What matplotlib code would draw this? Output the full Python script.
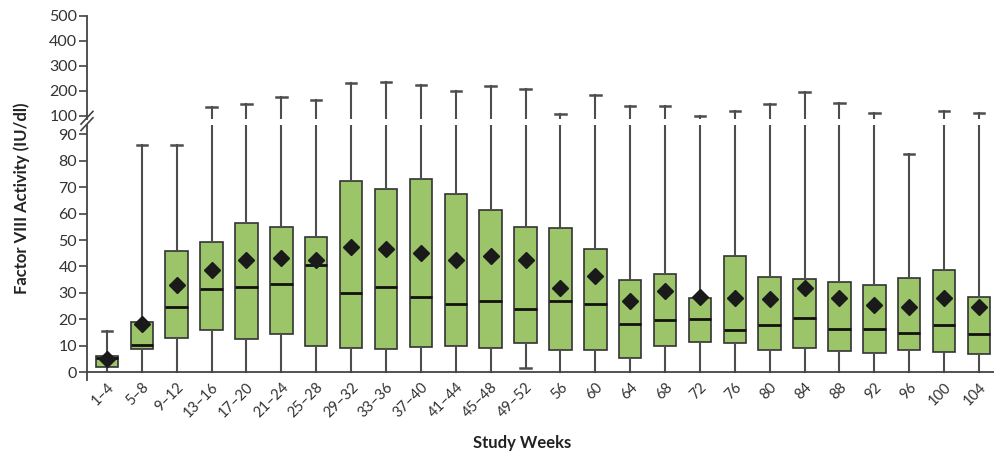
import matplotlib.pyplot as plt
from matplotlib.lines import Line2D

plt.rcParams['font.family'] = ['Lato', 'DejaVu Sans']

weeks = ['1–4', '5–8', '9–12', '13–16', '17–20', '21–24', '25–28', '29–32',
         '33–36', '37–40', '41–44', '45–48', '49–52', '56', '60', '64', '68',
         '72', '76', '80', '84', '88', '92', '96', '100', '104']

q1 = [1.8, 8.8, 12.9, 16.0, 12.4, 14.4, 9.8, 9.0, 8.7, 9.6, 10.0, 9.2, 11.2,
      8.2, 8.2, 5.3, 9.7, 11.4, 10.9, 8.3, 9.1, 8.1, 7.3, 8.5, 7.7, 6.7]
median = [5.2, 10.3, 24.5, 31.6, 32.2, 33.2, 40.6, 30.0, 32.3, 28.3, 25.8, 27.0, 24.0,
          26.8, 25.8, 18.2, 19.8, 20.2, 15.9, 17.7, 20.6, 16.3, 16.3, 14.9, 17.7, 14.5]
q3 = [6.2, 19.1, 45.7, 49.1, 56.3, 54.8, 51.1, 72.5, 69.4, 73.0, 67.4, 61.4, 54.8,
      54.7, 46.6, 34.8, 37.2, 28.0, 43.8, 35.9, 35.1, 34.3, 33.0, 35.6, 38.8, 28.4]
mean = [4.9, 18.3, 33.1, 38.8, 42.4, 43.1, 42.4, 47.5, 46.6, 45.2, 42.3, 44.0, 42.3,
        31.9, 36.5, 27.0, 30.6, 28.3, 28.0, 27.7, 31.9, 28.0, 25.3, 24.6, 28.2, 24.6]
low = [0.3, 0, 0, 0, 0, 0, 0, 0, 0, 0, 0, 0, 1.5,
       0, 0, 0, 0, 0, 0, 0, 0, 0, 0, 0, 0, 0]
high = [15.5, 86, 86, 137, 149, 176, 163, 233, 234, 223, 201, 221, 207,
        108, 183, 140, 140, 98, 119, 148, 195, 151, 111, 82.7, 121, 111]

stats = [dict(label=w, q1=a, med=m, q3=b, mean=mu, whislo=lo, whishi=hi, fliers=[])
         for w, a, m, b, mu, lo, hi in zip(weeks, q1, median, q3, mean, low, high)]

green = '#9cc56a'
dark = '#333333'

fig = plt.figure(figsize=(9.95, 4.54), dpi=100)
ax_lo = fig.add_axes([0.0874, 0.163, 0.9126, 0.5617])
ax_hi = fig.add_axes([0.0874, 0.7379, 0.9126, 0.2269])

parts = {}
for ax in (ax_lo, ax_hi):
    parts[ax] = ax.bxp(stats, positions=range(len(weeks)), widths=0.645, patch_artist=True,
                       showmeans=True, showfliers=False,
                       boxprops=dict(facecolor=green, edgecolor=dark, linewidth=1.2),
                       medianprops=dict(color='#111111', linewidth=2),
                       whiskerprops=dict(color='#4d4d4d', linewidth=1.5),
                       capprops=dict(color='#4d4d4d', linewidth=1.8),
                       capwidths=0.3,
                       meanprops=dict(marker='D', markerfacecolor='#1a1a1a',
                                      markeredgecolor='#1a1a1a', markersize=8))
    ax.set_xlim(-0.573, 25.46)
    ax.spines['top'].set_visible(False)
    ax.spines['right'].set_visible(False)
    ax.spines['left'].set_color('#444444')
    ax.spines['left'].set_linewidth(1.3)
    ax.tick_params(axis='y', length=6, width=1.2, color='#444444',
                   labelsize=11.5, labelcolor='#333333', pad=1)

# lower panel: 0-90 on a linear scale
ax_lo.set_ylim(-3, 93.6)
ax_lo.set_yticks(range(0, 91, 10))
ax_lo.spines['bottom'].set_position(('data', 0))
ax_lo.spines['bottom'].set_color('#444444')
ax_lo.spines['bottom'].set_linewidth(1.3)
ax_lo.set_xticks(range(len(weeks)))
ax_lo.set_xticklabels(weeks, rotation=45, ha='right', rotation_mode='anchor',
                      fontsize=10.5, color='#333333')
ax_lo.tick_params(axis='x', length=0, pad=6)
# caps sitting on the x axis are hidden by it
for cap in parts[ax_lo]['caps']:
    if cap.get_ydata()[0] < 1:
        cap.set_visible(False)

# upper panel: compressed scale above the break
ax_hi.set_ylim(88, 500)
ax_hi.set_yticks([100, 200, 300, 400, 500])
ax_hi.spines['bottom'].set_visible(False)
ax_hi.set_xticks([])
for line in parts[ax_hi]['caps'] + parts[ax_hi]['whiskers']:
    if max(line.get_ydata()) < 90:
        line.set_visible(False)

# axis break marks
bx, by = 0.0874, 0.7336
for off in (-0.007, 0.007):
    fig.add_artist(Line2D([bx - 0.006, bx + 0.006], [by - 0.014 + off, by + 0.014 + off],
                          transform=fig.transFigure, color='#444444', linewidth=1.2))

fig.text(0.022, 0.563, 'Factor VIII Activity (IU/dl)', rotation=90, ha='center',
         va='center', fontsize=12, fontweight='bold', color='#222222')
fig.text(0.525, 0.025, 'Study Weeks', ha='center', va='center',
         fontsize=12, fontweight='bold', color='#222222')

fig.savefig('out.png', dpi=100)
